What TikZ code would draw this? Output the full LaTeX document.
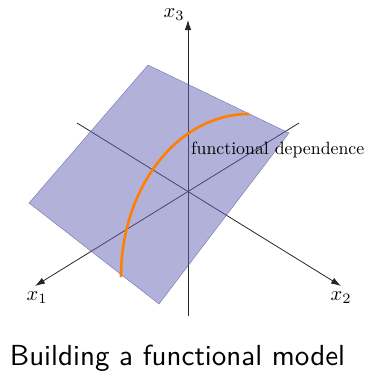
\documentclass[tikz,border=0pt]{standalone}
\usetikzlibrary{arrows.meta}
\definecolor{planecol}{RGB}{100,100,182}
\definecolor{curvecol}{RGB}{255,127,0}
\tikzset{
  axis/.style={line width=0.8pt,black!85},
  axisarrow/.style={axis,-{Latex[length=10pt,width=6.5pt]}},
  lbl/.style={inner sep=0pt},
}
\begin{document}
\begin{tikzpicture}[x=1pt,y=-1pt]
\useasboundingbox (0,0) rectangle (364,372);
% axes
\coordinate (O) at (188,192);
\coordinate (x3top) at (188,20);
\coordinate (x3bot) at (188,316);
\coordinate (x1start) at (299,123);
\coordinate (x1tip) at (35,286);
\coordinate (x2start) at (77,123);
\coordinate (x2tip) at (341,286);
\draw[axis] (x3bot) -- (O);
\draw[axisarrow] (O) -- (x3top);
\draw[axisarrow] (x1start) -- (x1tip);
\draw[axisarrow] (x2start) -- (x2tip);
% plane
\coordinate (p1) at (148,65);
\coordinate (p2) at (289,133);
\coordinate (p3) at (159,304);
\coordinate (p4) at (29,203);
\fill[planecol,fill opacity=0.5] (p1) -- (p2) -- (p3) -- (p4) -- cycle;
\draw[planecol!80!black,line width=0.4pt,opacity=0.7] (p1) -- (p2) -- (p3) -- (p4) -- cycle;
% curve
\coordinate (c0) at (249,114);
\draw[curvecol,line width=2.6pt] (c0) arc[start angle=-90,end angle=-180,x radius=128,y radius=163];
% labels
\node[lbl,anchor=base west] (fd) at (191,154) {\scalebox{1.78}{functional dependence}};
\node[lbl] (l3) at (174,15) {\scalebox{2.05}{$x_3$}};
\node[lbl] (l1) at (37,298) {\scalebox{2.05}{$x_1$}};
\node[lbl] (l2) at (341,298) {\scalebox{2.05}{$x_2$}};
\node[inner sep=0pt,anchor=base] (cap) at (177.5,365) {\scalebox{2.9}{\sffamily Building a functional model}};
\end{tikzpicture}
\end{document}
